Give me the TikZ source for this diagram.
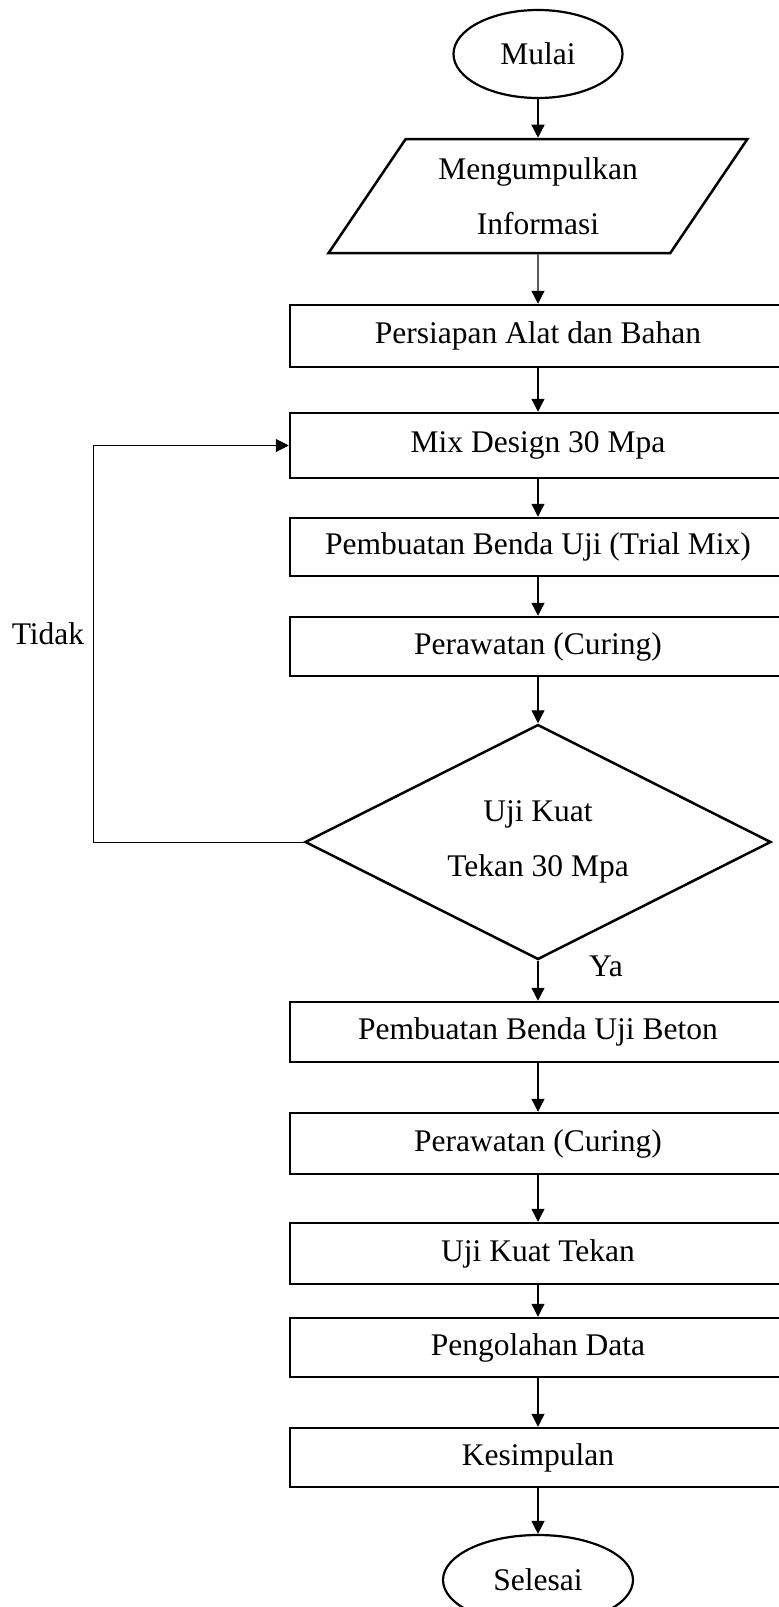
\documentclass[tikz,border=0pt]{standalone}
\usepackage{fontspec}
\setmainfont{Liberation Serif}
\usetikzlibrary{arrows.meta,shapes.geometric}

\begin{document}
\begin{tikzpicture}[
  x=1pt,y=-1pt,
  font=\fontsize{31.5}{55}\selectfont,
  flow/.style={-{Triangle[length=13pt,width=13pt]},line width=1.3pt},
  back/.style={flow,line width=1pt},
  box/.style={draw,line width=2.5pt,minimum width=496pt,minimum height=60pt,
    inner sep=2pt},
  terminal/.style={draw,ellipse,line width=2.2pt,inner sep=0pt},
  io/.style={draw,trapezium,trapezium left angle=53,trapezium right angle=127,
    trapezium stretches=true,line width=2.5pt,minimum width=420pt,
    minimum height=114pt,align=center,inner sep=0pt},
  decision/.style={draw,diamond,aspect=2,line width=2.5pt,minimum width=466pt,
    minimum height=235pt,align=center,inner sep=0pt}
]
\useasboundingbox (0,0) rectangle (779,1607);
\clip (0,0) rectangle (779,1607);

\node[terminal,minimum width=169pt,minimum height=88pt] (start) at (538,54) {Mulai};
\node[io] (info) at (538,196) {Mengumpulkan\\Informasi};
\node[box,minimum height=62pt] (prep) at (538,336) {Persiapan Alat dan Bahan};
\node[box,minimum height=65pt] (mix) at (538,445.5) {Mix Design 30 Mpa};
\node[box,minimum height=58pt] (trial) at (538,547) {Pembuatan Benda Uji (Trial Mix)};
\node[box,minimum height=59pt] (cure1) at (538,646.5) {Perawatan (Curing)};
\node[decision] (test) at (538,842) {Uji Kuat\\Tekan 30 Mpa};
\node[box] (sample) at (538,1032) {Pembuatan Benda Uji Beton};
\node[box,minimum height=61pt] (cure2) at (538,1143.5) {Perawatan (Curing)};
\node[box,minimum height=61pt] (press) at (538,1253.5) {Uji Kuat Tekan};
\node[box,minimum height=59pt] (data) at (538,1347.5) {Pengolahan Data};
\node[box,minimum height=59pt] (concl) at (538,1457.5) {Kesimpulan};
\node[terminal,minimum width=190pt,minimum height=90pt] (finish) at (538,1580) {Selesai};

\node (yes) at (606,966) {Ya};
\node (no) at (48,634) {Tidak};

\draw[flow] (start) -- (info);
\draw[flow] (info) -- (prep);
\draw[flow] (prep) -- (mix);
\draw[flow] (mix) -- (trial);
\draw[flow] (trial) -- (cure1);
\draw[flow] (cure1) -- (test);
\draw[flow] (test) -- (sample);
\draw[flow] (sample) -- (cure2);
\draw[flow] (cure2) -- (press);
\draw[flow] (press) -- (data);
\draw[flow] (data) -- (concl);
\draw[flow] (concl) -- (finish);

% failed test goes back to the mix design
\draw[back] (test.west) -- ++(-210,0) |- (mix.west);
\end{tikzpicture}
\end{document}
